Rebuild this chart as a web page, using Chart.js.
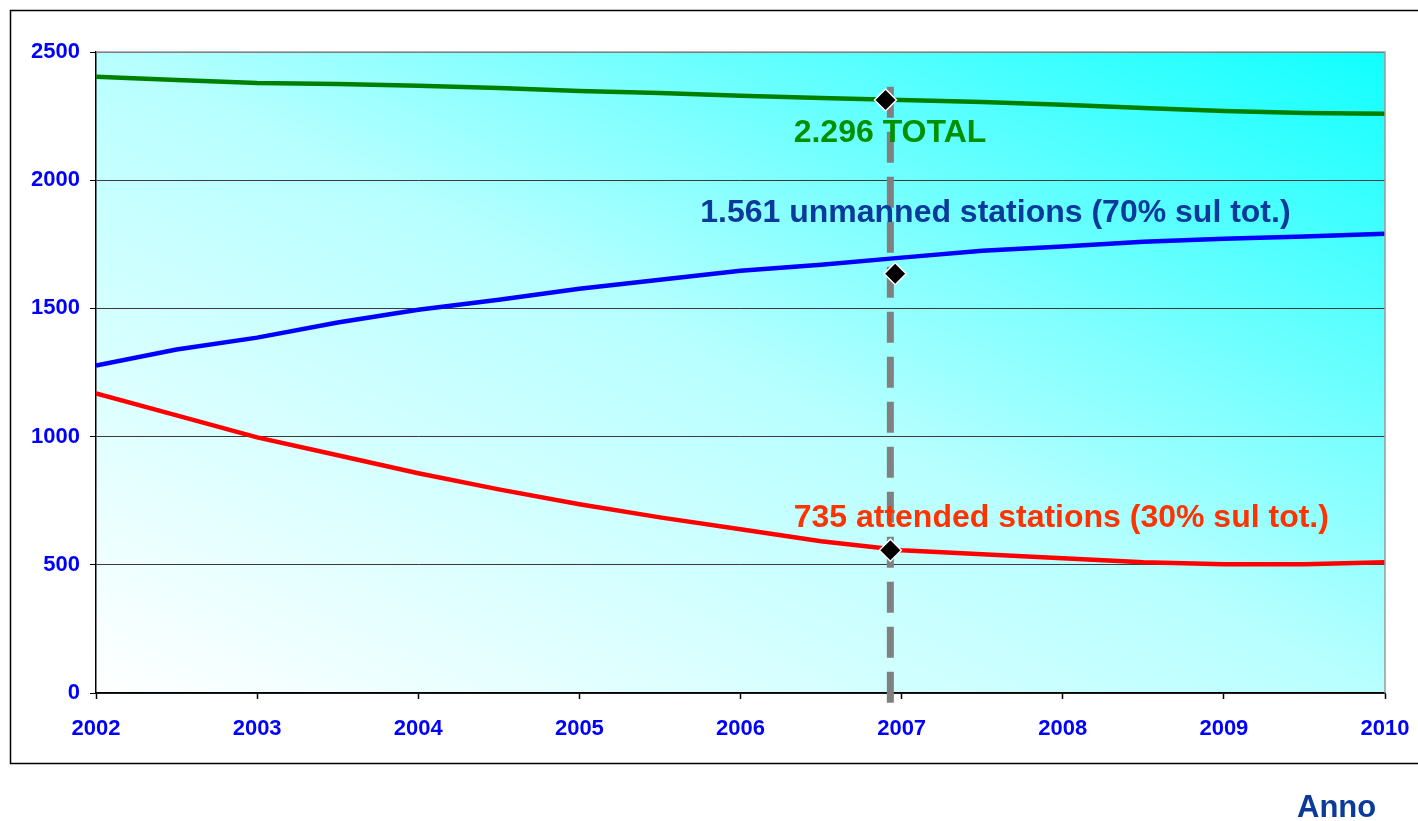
<!DOCTYPE html>
<html>
<head>
<meta charset="utf-8">
<script src="https://cdn.jsdelivr.net/npm/chart.js@4.4.1/dist/chart.umd.min.js"></script>
<style>
  html, body { margin: 0; padding: 0; background: #fff; }
  #wrap { width: 1418px; height: 821px; position: relative; }
</style>
</head>
<body>
<div id="wrap"><canvas id="grafico" width="1418" height="821"></canvas></div>
<script>
// anni (asse x) e valori
const anni = [2002, 2002.5, 2003, 2003.5, 2004, 2004.5, 2005, 2005.5, 2006, 2006.5, 2007, 2007.5, 2008, 2008.5, 2009, 2009.5, 2010];
const totale = [2403, 2391, 2379, 2375, 2368, 2360, 2348, 2340, 2329, 2321, 2313, 2305, 2294, 2282, 2270, 2262, 2259];
const impresenziate = [1277, 1340, 1386, 1445, 1495, 1534, 1577, 1612, 1647, 1670, 1698, 1725, 1741, 1760, 1772, 1780, 1791];
const presenziate = [1168, 1083, 997, 927, 857, 794, 736, 685, 639, 592, 557, 541, 526, 510, 502, 502, 510];

// punti evidenziati (fine 2006)
const xMarker = [2006.90, 2006.96, 2006.93];
const yMarker = [2313, 1635, 557];
const lineaTratteggiata = [2364, -40];

const etichette = [
  { testo: "2.296 TOTAL", x: 2006.33, y: 2185, colore: "#009000" },
  { testo: "1.561 unmanned stations (70% sul tot.)", x: 2005.75, y: 1873, colore: "#0B3A9A" },
  { testo: "735 attended stations (30% sul tot.)", x: 2006.33, y: 681, colore: "#FF3300" }
];
const titoloAsse = "Anno";

const punti = (xs, ys) => xs.map((x, i) => ({ x: x, y: ys[i] }));

// sfondo sfumato, cornice e testi
const decorazioni = {
  id: 'decorazioni',
  beforeDraw(chart) {
    const ctx = chart.ctx;
    const a = chart.chartArea;
    const w = a.right - a.left, h = a.bottom - a.top;
    const k = 2 * w * h / (w * w + h * h);
    const g = ctx.createLinearGradient(a.left, a.bottom, a.left + h * k, a.bottom - w * k);
    g.addColorStop(0, '#FFFFFF');
    g.addColorStop(0.5, '#B8FFFF');
    g.addColorStop(1, '#10FFFF');
    ctx.save();
    ctx.fillStyle = g;
    ctx.fillRect(a.left, a.top, w, h);
    // cornice esterna
    ctx.strokeStyle = '#000';
    ctx.lineWidth = 1.5;
    ctx.strokeRect(10.5, 10.5, 1440, 753);
    ctx.restore();
  },
  afterDatasetsDraw(chart) {
    const ctx = chart.ctx;
    const a = chart.chartArea;
    const sx = chart.scales.x, sy = chart.scales.y;
    ctx.save();
    ctx.strokeStyle = '#999';
    ctx.lineWidth = 1.5;
    ctx.beginPath();
    ctx.moveTo(a.left, a.top);
    ctx.lineTo(a.right, a.top);
    ctx.lineTo(a.right, a.bottom);
    ctx.stroke();
    ctx.font = 'bold 32px "Liberation Sans", Arial, sans-serif';
    ctx.textBaseline = 'middle';
    ctx.textAlign = 'left';
    etichette.forEach(e => {
      ctx.fillStyle = e.colore;
      ctx.fillText(e.testo, sx.getPixelForValue(e.x), sy.getPixelForValue(e.y));
    });
    ctx.font = 'bold 31px "Liberation Sans", Arial, sans-serif';
    ctx.fillStyle = '#0B3A9A';
    ctx.fillText(titoloAsse, 1297, 808);
    ctx.restore();
  }
};

const fontTick = { family: '"Liberation Sans", Arial, sans-serif', size: 22, weight: 'bold' };

new Chart(document.getElementById('grafico'), {
  type: 'line',
  data: {
    datasets: [
      {
        label: 'linea',
        data: [{ x: 2006.93, y: lineaTratteggiata[0] }, { x: 2006.93, y: lineaTratteggiata[1] }],
        borderColor: '#808080',
        borderWidth: 7,
        borderDash: [31, 14],
        pointRadius: 0,
        clip: false,
        order: 5
      },
      {
        label: 'TOTAL',
        data: punti(anni, totale),
        borderColor: '#008000',
        borderWidth: 4.5,
        pointRadius: 0,
        order: 4
      },
      {
        label: 'unmanned',
        data: punti(anni, impresenziate),
        borderColor: '#0000FF',
        borderWidth: 4.5,
        pointRadius: 0,
        order: 3
      },
      {
        label: 'attended',
        data: punti(anni, presenziate),
        borderColor: '#FF0000',
        borderWidth: 4.5,
        pointRadius: 0,
        order: 2
      },
      {
        label: 'marker',
        data: punti(xMarker, yMarker),
        showLine: false,
        pointStyle: 'rectRot',
        pointRadius: 11,
        pointBackgroundColor: '#000',
        pointBorderColor: '#fff',
        pointBorderWidth: 1.5,
        clip: false,
        order: 1
      }
    ]
  },
  options: {
    responsive: false,
    animation: false,
    layout: { padding: { left: 0, top: 52, right: 33, bottom: 0 } },
    plugins: { legend: { display: false }, tooltip: { enabled: false } },
    scales: {
      x: {
        type: 'linear',
        min: 2002,
        max: 2010,
        afterFit(s) { s.height = 128; s.paddingLeft = 0; s.paddingRight = 0; },
        ticks: { stepSize: 1, color: '#0000FF', font: fontTick, padding: 17, maxRotation: 0, callback: v => String(v) },
        grid: { drawOnChartArea: false, drawTicks: true, tickLength: 6, tickColor: '#000', tickWidth: 1.5 },
        border: { color: '#000', width: 1.5 }
      },
      y: {
        min: 0,
        max: 2500,
        afterFit(s) { s.width = 96; s.paddingTop = 0; s.paddingBottom = 0; },
        ticks: { stepSize: 500, color: '#0000FF', font: fontTick, padding: 10, callback: v => String(v) },
        grid: { color: '#3a3a3a', lineWidth: 1, drawTicks: true, tickLength: 6, tickColor: '#000' },
        border: { color: '#000', width: 1.5 }
      }
    }
  },
  plugins: [decorazioni]
});
</script>
</body>
</html>
